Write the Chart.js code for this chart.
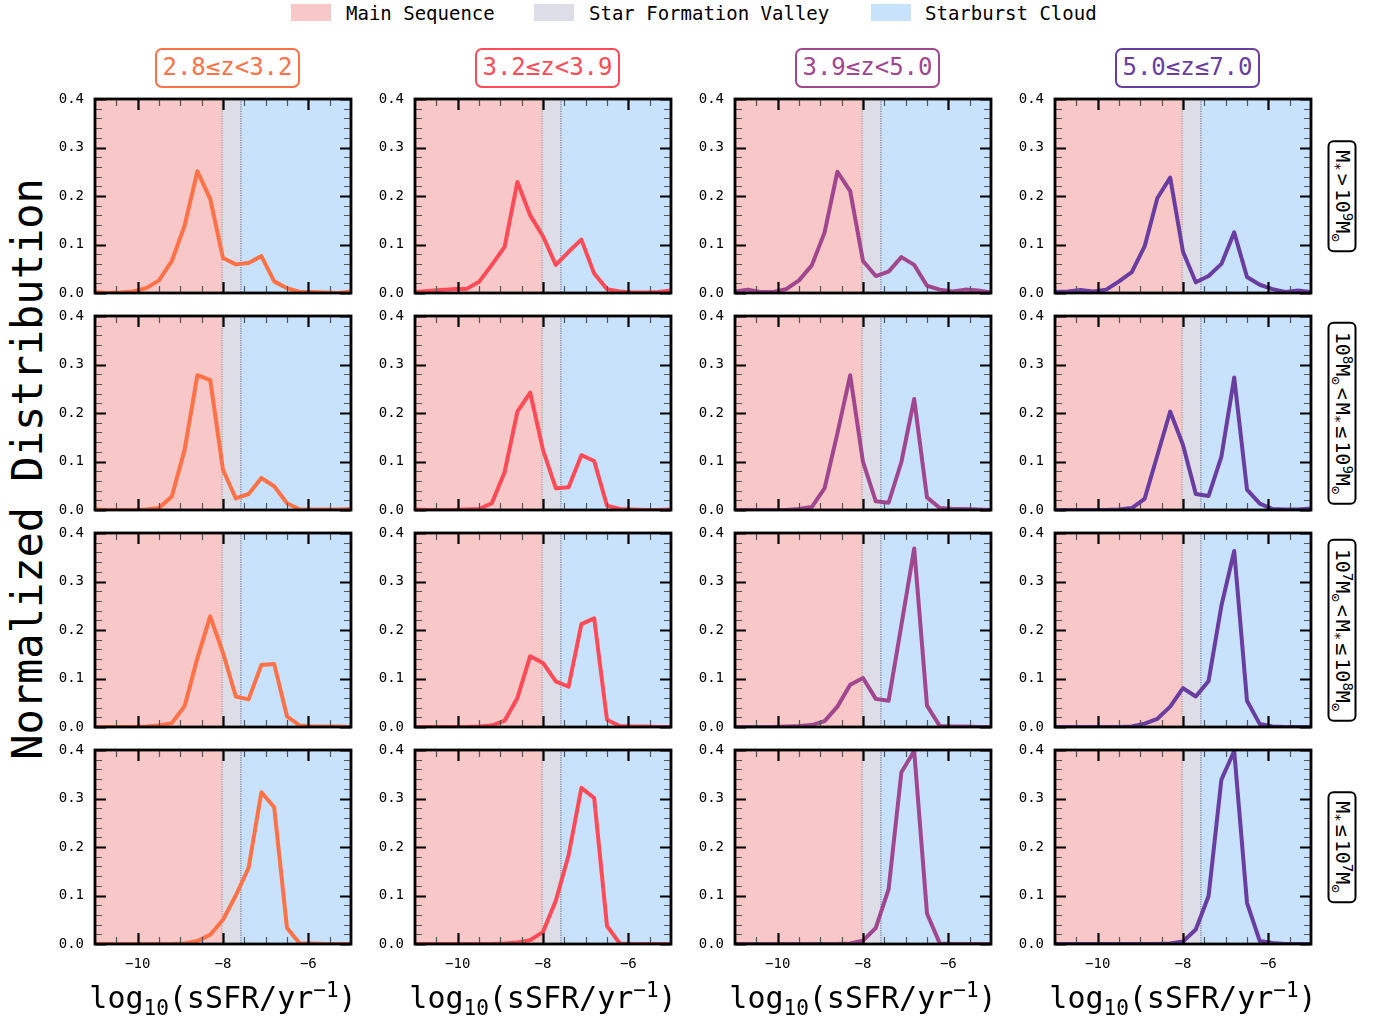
<!DOCTYPE html>
<html>
<head>
<meta charset="utf-8">
<script src="https://cdn.jsdelivr.net/npm/chart.js@4.4.1/dist/chart.umd.min.js"></script>
<style>
  body { margin: 0; width: 1385px; height: 1021px; background: #fff; position: relative; overflow: hidden;
         font-family: "DejaVu Sans Mono", monospace; color: #000; }
  canvas { position: absolute; }
  .patch { position: absolute; top: 4px; width: 40px; height: 17px; }
  .legtxt { position: absolute; top: 2px; font-size: 19px; line-height: 22px; white-space: nowrap; }
  .ztitle { position: absolute; top: 48px; height: 40px; box-sizing: border-box; border: 2.5px solid; border-radius: 7px;
            font-size: 24px; line-height: 35px; text-align: center; white-space: nowrap; background: #fff; }
  .rowlab { position: absolute; transform: translate(-50%, -50%) rotate(90deg); border: 2.5px solid #000; border-radius: 6px;
            font-size: 20px; line-height: 25px; padding: 0 8px; white-space: nowrap; background: #fff; }
  .rowlab sub, .rowlab sup { font-size: 14px; line-height: 0; }
  .rowlab .rel { margin: 0 3px; }
  .xtitle { position: absolute; top: 978px; transform: translateX(-50%); font-size: 30px; line-height: 40px; white-space: nowrap; }
  .xtitle sub, .xtitle sup { font-size: 21px; line-height: 0; }
  .ytitle { position: absolute; left: 27px; top: 469px; transform: translate(-50%, -50%) rotate(-90deg);
            font-size: 42px; white-space: nowrap; }
</style>
</head>
<body>

<div class="patch" style="left:291px; background:#f8c7c7;"></div>
<div class="legtxt" style="left:346px;">Main Sequence</div>
<div class="patch" style="left:534px; background:#dddde7;"></div>
<div class="legtxt" style="left:589px;">Star Formation Valley</div>
<div class="patch" style="left:871px; background:#c8e2fc;"></div>
<div class="legtxt" style="left:925px;">Starburst Cloud</div>

<div class="ytitle">Normalized Distribution</div>

<script>
// bin centres of log10(sSFR)
const xBins = [-11.0, -10.7, -10.4, -10.1, -9.8, -9.5, -9.2, -8.9, -8.6, -8.3, -8.0,
               -7.7, -7.4, -7.1, -6.8, -6.5, -6.2, -5.9, -5.6, -5.3, -5.0];

const zLabels = ['2.8≤z<3.2', '3.2≤z<3.9', '3.9≤z<5.0', '5.0≤z≤7.0'];
const zColors = ['#ff7147', '#ff4b58', '#a1478f', '#6a3ea1'];

const massLabels = [
  'M<sub>*</sub><span class="rel">&gt;</span>10<sup>9</sup>M<sub>⊙</sub>',
  '10<sup>8</sup>M<sub>⊙</sub><span class="rel">&lt;</span>M<sub>*</sub><span class="rel">≤</span>10<sup>9</sup>M<sub>⊙</sub>',
  '10<sup>7</sup>M<sub>⊙</sub><span class="rel">&lt;</span>M<sub>*</sub><span class="rel">≤</span>10<sup>8</sup>M<sub>⊙</sub>',
  'M<sub>*</sub><span class="rel">≤</span>10<sup>7</sup>M<sub>⊙</sub>'
];

// M* > 1e9
const gt9_z1 = [0.002, 0.000, 0.001, 0.003, 0.010, 0.026, 0.066, 0.139, 0.251, 0.194, 0.072, 0.059, 0.062, 0.076, 0.024, 0.010, 0.002, 0.002, 0.001, 0.000, 0.003];
const gt9_z2 = [0.002, 0.004, 0.006, 0.008, 0.008, 0.023, 0.058, 0.095, 0.229, 0.160, 0.117, 0.058, 0.085, 0.110, 0.040, 0.008, 0.003, 0.001, 0.001, 0.002, 0.005];
const gt9_z3 = [0.003, 0.007, 0.002, 0.002, 0.008, 0.026, 0.057, 0.125, 0.250, 0.210, 0.066, 0.035, 0.044, 0.074, 0.058, 0.015, 0.007, 0.003, 0.007, 0.005, 0.001];
const gt9_z4 = [0.002, 0.003, 0.006, 0.003, 0.007, 0.024, 0.043, 0.096, 0.196, 0.238, 0.085, 0.022, 0.035, 0.060, 0.125, 0.033, 0.017, 0.008, 0.002, 0.005, 0.002];

// 1e8 < M* <= 1e9
const m8_z1 = [0.001, 0.000, 0.000, 0.000, 0.001, 0.004, 0.028, 0.124, 0.278, 0.268, 0.083, 0.024, 0.033, 0.066, 0.049, 0.014, 0.001, 0.001, 0.001, 0.001, 0.002];
const m8_z2 = [0.001, 0.000, 0.000, 0.000, 0.001, 0.002, 0.014, 0.078, 0.203, 0.242, 0.124, 0.045, 0.047, 0.113, 0.101, 0.009, 0.002, 0.001, 0.000, 0.000, 0.001];
const m8_z3 = [0.000, 0.000, 0.000, 0.000, 0.000, 0.002, 0.006, 0.045, 0.158, 0.278, 0.099, 0.018, 0.015, 0.099, 0.229, 0.026, 0.004, 0.002, 0.002, 0.001, 0.000];
const m8_z4 = [0.000, 0.000, 0.000, 0.000, 0.000, 0.001, 0.004, 0.023, 0.113, 0.203, 0.134, 0.033, 0.029, 0.110, 0.273, 0.042, 0.013, 0.002, 0.001, 0.001, 0.003];

// 1e7 < M* <= 1e8
const m7_z1 = [0.000, 0.000, 0.000, 0.000, 0.001, 0.003, 0.008, 0.043, 0.142, 0.228, 0.153, 0.063, 0.057, 0.128, 0.130, 0.022, 0.003, 0.001, 0.001, 0.001, 0.000];
const m7_z2 = [0.000, 0.000, 0.000, 0.000, 0.000, 0.001, 0.003, 0.013, 0.060, 0.146, 0.132, 0.094, 0.083, 0.212, 0.224, 0.015, 0.002, 0.001, 0.001, 0.000, 0.000];
const m7_z3 = [0.000, 0.000, 0.000, 0.000, 0.001, 0.002, 0.004, 0.012, 0.042, 0.087, 0.101, 0.058, 0.054, 0.210, 0.368, 0.044, 0.002, 0.001, 0.001, 0.000, 0.000];
const m7_z4 = [0.000, 0.000, 0.000, 0.000, 0.000, 0.000, 0.001, 0.007, 0.017, 0.042, 0.080, 0.063, 0.095, 0.250, 0.363, 0.054, 0.006, 0.001, 0.000, 0.000, 0.000];

// M* <= 1e7
const lt7_z1 = [0.000, 0.000, 0.000, 0.000, 0.000, 0.000, 0.000, 0.001, 0.006, 0.019, 0.050, 0.100, 0.157, 0.313, 0.282, 0.033, 0.001, 0.001, 0.000, 0.000, 0.000];
const lt7_z2 = [0.000, 0.000, 0.000, 0.000, 0.000, 0.000, 0.000, 0.001, 0.003, 0.008, 0.025, 0.089, 0.183, 0.322, 0.301, 0.037, 0.001, 0.000, 0.000, 0.000, 0.000];
const lt7_z3 = [0.000, 0.000, 0.000, 0.000, 0.000, 0.000, 0.000, 0.000, 0.000, 0.001, 0.007, 0.033, 0.113, 0.354, 0.398, 0.063, 0.001, 0.000, 0.000, 0.000, 0.000];
const lt7_z4 = [0.000, 0.000, 0.000, 0.000, 0.000, 0.000, 0.000, 0.000, 0.000, 0.001, 0.005, 0.030, 0.099, 0.339, 0.398, 0.085, 0.006, 0.002, 0.000, 0.000, 0.000];

const grid = [
  [gt9_z1, gt9_z2, gt9_z3, gt9_z4],
  [m8_z1, m8_z2, m8_z3, m8_z4],
  [m7_z1, m7_z2, m7_z3, m7_z4],
  [lt7_z1, lt7_z2, lt7_z3, lt7_z4]
];

const xTickLabels = [-10, -8, -6];
const yTickLabels = [0, 0.1, 0.2, 0.3, 0.4];

// region edges: main sequence | valley | starburst cloud
const regionEdges = [-11, -8.02, -7.58, -5];
const regionColors = ['#f8c7c7', '#dddde7', '#c8e2fc'];

// layout (px)
const PLOT_LEFT = 95, PLOT_TOP = 99, PLOT_W = 256, PLOT_H = 194;
const COL_STEP = 320, ROW_STEP = 217;
const PAD_L = 50, PAD_T = 10, PAD_R = 8;

const panelDeco = {
  id: 'panelDeco',
  beforeDatasetsDraw(chart) {
    const { ctx, chartArea: a, scales: { x } } = chart;
    ctx.save();
    for (let i = 0; i < regionColors.length; i++) {
      const x0 = x.getPixelForValue(regionEdges[i]);
      const x1 = x.getPixelForValue(regionEdges[i + 1]);
      ctx.fillStyle = regionColors[i];
      ctx.fillRect(x0, a.top, x1 - x0, a.bottom - a.top);
    }
    ctx.setLineDash([1.2, 1.2]);
    ctx.lineWidth = 0.9;
    ctx.strokeStyle = '#8a8a8a';
    let px = x.getPixelForValue(regionEdges[1]);
    ctx.beginPath(); ctx.moveTo(px, a.top); ctx.lineTo(px, a.bottom); ctx.stroke();
    ctx.strokeStyle = '#4c5a78';
    px = x.getPixelForValue(regionEdges[2]);
    ctx.beginPath(); ctx.moveTo(px, a.top); ctx.lineTo(px, a.bottom); ctx.stroke();
    ctx.restore();
  },
  afterDatasetsDraw(chart) {
    const { ctx, chartArea: a, scales: { x, y } } = chart;
    ctx.save();
    const tick = (isMajor) => {
      ctx.lineWidth = isMajor ? 2.2 : 1.2;
      ctx.strokeStyle = isMajor ? '#000' : '#555';
      return isMajor ? 11 : 7;
    };
    // x ticks every 0.5, major at labels
    for (let v = -11; v <= -5.001; v += 0.5) {
      const isMajor = xTickLabels.includes(v);
      const L = tick(isMajor);
      const px = Math.round(x.getPixelForValue(v)) + 0.5;
      ctx.beginPath();
      ctx.moveTo(px, a.bottom); ctx.lineTo(px, a.bottom - L);
      ctx.moveTo(px, a.top); ctx.lineTo(px, a.top + L);
      ctx.stroke();
    }
    // y ticks every 0.02, major every 0.1
    for (let k = 0; k <= 20; k++) {
      const isMajor = k % 5 === 0;
      const L = tick(isMajor);
      const py = Math.round(y.getPixelForValue(k * 0.02)) + 0.5;
      ctx.beginPath();
      ctx.moveTo(a.left, py); ctx.lineTo(a.left + L, py);
      ctx.moveTo(a.right, py); ctx.lineTo(a.right - L, py);
      ctx.stroke();
    }
    ctx.lineWidth = 2.8;
    ctx.strokeStyle = '#000';
    ctx.strokeRect(a.left, a.top, a.right - a.left, a.bottom - a.top);
    ctx.restore();
  }
};

const tickFont = { family: 'DejaVu Sans Mono', size: 14 };

function makePanel(r, c) {
  const bottomRow = r === grid.length - 1;
  const plotLeft = PLOT_LEFT + c * COL_STEP;
  const plotTop = PLOT_TOP + r * ROW_STEP;
  const padB = bottomRow ? 0 : 10;
  const xAxisH = bottomRow ? 36 : 0;

  const canvas = document.createElement('canvas');
  canvas.width = PAD_L + PLOT_W + PAD_R;
  canvas.height = PAD_T + PLOT_H + padB + xAxisH;
  canvas.style.left = (plotLeft - PAD_L) + 'px';
  canvas.style.top = (plotTop - PAD_T) + 'px';
  document.body.appendChild(canvas);

  const values = grid[r][c];
  new Chart(canvas.getContext('2d'), {
    type: 'line',
    data: {
      datasets: [{
        data: xBins.map((xv, i) => ({ x: xv, y: values[i] })),
        borderColor: zColors[c],
        borderWidth: 4,
        pointRadius: 0,
        tension: 0,
        borderJoinStyle: 'round',
        fill: false
      }]
    },
    options: {
      responsive: false,
      animation: false,
      events: [],
      layout: { padding: { left: 0, top: PAD_T, right: PAD_R, bottom: padB } },
      plugins: { legend: { display: false }, tooltip: { enabled: false } },
      scales: {
        x: {
          type: 'linear', min: -11, max: -5,
          grid: { display: false, drawTicks: false },
          border: { display: false },
          ticks: {
            display: bottomRow, font: tickFont, color: '#000', padding: 12,
            maxRotation: 0, autoSkip: false,
            callback: v => (v < 0 ? '−' : '') + Math.abs(v)
          },
          afterBuildTicks: s => { s.ticks = xTickLabels.map(v => ({ value: v })); },
          afterFit: s => { s.height = xAxisH; s.paddingLeft = 0; s.paddingRight = 0; }
        },
        y: {
          min: 0, max: 0.4,
          grid: { display: false, drawTicks: false },
          border: { display: false },
          ticks: { font: tickFont, color: '#000', padding: 11, callback: v => v.toFixed(1) },
          afterBuildTicks: s => { s.ticks = yTickLabels.map(v => ({ value: v })); },
          afterFit: s => { s.width = PAD_L; s.paddingTop = 0; s.paddingBottom = 0; }
        }
      }
    },
    plugins: [panelDeco]
  });
}

for (let r = 0; r < grid.length; r++) {
  for (let c = 0; c < zLabels.length; c++) makePanel(r, c);
}

// column titles and x-axis titles
zLabels.forEach((label, c) => {
  const centre = PLOT_LEFT + c * COL_STEP + PLOT_W / 2;
  const t = document.createElement('div');
  t.className = 'ztitle';
  t.style.left = (centre + 4 - 72) + 'px';
  t.style.width = '145px';
  t.style.color = zColors[c];
  t.style.borderColor = zColors[c];
  t.textContent = label;
  document.body.appendChild(t);

  const xt = document.createElement('div');
  xt.className = 'xtitle';
  xt.style.left = centre + 'px';
  xt.innerHTML = 'log<sub>10</sub>(sSFR/yr<sup>−1</sup>)';
  document.body.appendChild(xt);
});

// mass-bin labels on the right
massLabels.forEach((html, r) => {
  const d = document.createElement('div');
  d.className = 'rowlab';
  d.style.left = '1342px';
  d.style.top = (PLOT_TOP + r * ROW_STEP + PLOT_H / 2) + 'px';
  d.innerHTML = html;
  document.body.appendChild(d);
});
</script>
</body>
</html>
